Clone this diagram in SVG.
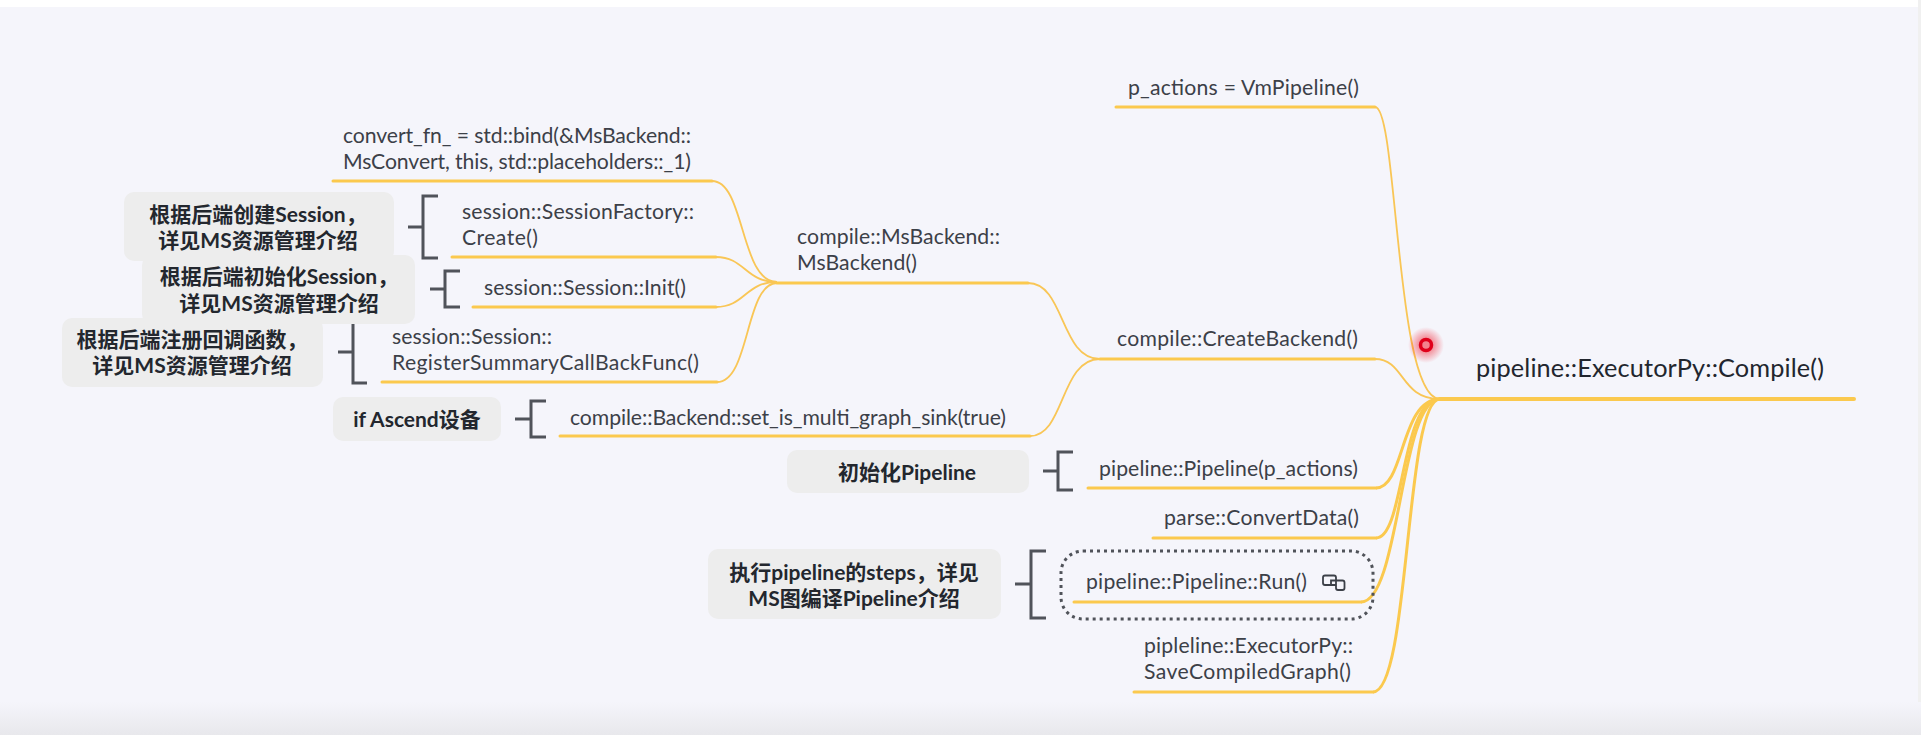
<svg xmlns="http://www.w3.org/2000/svg" width="1921" height="735" viewBox="0 0 1921 735">
<defs>
<linearGradient id="floor" x1="0" y1="0" x2="0" y2="1"><stop offset="0" stop-color="#f5f5fb"/><stop offset="1" stop-color="#e8e8ec"/></linearGradient>
<radialGradient id="glow"><stop offset="0.3" stop-color="#f01020" stop-opacity="0.5"/><stop offset="1" stop-color="#f01020" stop-opacity="0"/></radialGradient>
</defs>
<style>
.t{font-family:"Lato","Noto Sans CJK SC",sans-serif;font-size:21.2px;fill:#3c4048}
.b{font-family:"Lato","Noto Sans CJK SC",sans-serif;font-size:21px;font-weight:700;fill:#23272e;text-anchor:middle}
.box{fill:#ededed}
.u{fill:none;stroke:#fbc94e;stroke-width:3;stroke-linecap:round}
.c{fill:none;stroke:#f9c656;stroke-width:1.8}
.d{fill:none;stroke:#fbc94e;stroke-width:3}
.br{fill:none;stroke:#50535a;stroke-width:3}
</style>
<rect width="1921" height="735" fill="#ffffff"/>
<rect x="0" y="7" width="1918" height="728" fill="#f5f5fb"/>
<rect x="1918" y="0" width="3" height="735" fill="#f0f0f0"/>
<rect x="0" y="702" width="1921" height="33" fill="url(#floor)"/>
<g id="connectors">
<path class="u" d="M333 181H712"/><path class="c" d="M712 181C745 181 740 282 777 282"/>
<path class="u" d="M452 257H716"/><path class="c" d="M716 257C745 257 745 282 777 282"/>
<path class="u" d="M473 307H716"/><path class="c" d="M716 307C745 307 745 282 777 282"/>
<path class="u" d="M382 382H717"/><path class="c" d="M717 382C750 382 745 283 777 283"/>
<path class="u" d="M777 283H1028"/><path class="c" d="M1028 283C1065 283 1060 359 1100 359"/>
<path class="u" d="M560 436H1030"/><path class="c" d="M1030 436C1065 436 1060 359 1100 359"/>
<path class="u" d="M1100 359H1375"/><path class="c" d="M1375 359C1405 359 1400 399 1440 399"/>
<path class="u" d="M1116 107H1375"/><path class="c" d="M1375 107C1398 107 1395 399 1440 399"/>
<path class="u" d="M1440 399H1854" style="stroke-width:4"/>
<path class="u" d="M1088 488H1376"/><path class="d" d="M1376 488C1405 488 1400 399 1440 399"/>
<path class="u" d="M1153 538H1376"/><path class="d" d="M1376 538C1405 538 1400 399 1440 399"/>
<path class="u" d="M1074 602H1361"/><path class="d" d="M1361 602C1400 602 1400 399 1440 399"/>
<path class="u" d="M1134 692H1373"/><path class="d" d="M1373 692C1410 692 1405 399 1440 399"/>
</g>
<g id="bracket-1"><path class="br" d="M408 227H423M438 196H423V258H438"/></g>
<g id="bracket-2"><path class="br" d="M430 289H445M460 271H445V307H460"/></g>
<g id="bracket-3"><path class="br" d="M338 352H353M367 321H353V383H367"/></g>
<g id="bracket-4"><path class="br" d="M515 419H531M546 401H531V437H546"/></g>
<g id="bracket-5"><path class="br" d="M1043 471H1058M1073 452H1058V490H1073"/></g>
<g id="bracket-6"><path class="br" d="M1015 584H1031M1046 551H1031V618H1046"/></g>
<g id="root"><text class="t" x="1476" y="377" textLength="348" style="font-size:25.3px;fill:#22262e">pipeline::ExecutorPy::Compile()</text></g>
<g id="n-pactions"><text class="t" x="1128" y="95" textLength="231">p_actions = VmPipeline()</text></g>
<g id="n-createbackend"><text class="t" x="1117" y="346" textLength="241">compile::CreateBackend()</text></g>
<g id="n-msbackend"><text class="t" x="797" y="244" textLength="203">compile::MsBackend::</text><text class="t" x="797" y="270" textLength="120">MsBackend()</text></g>
<g id="n-convert"><text class="t" x="343" y="143" textLength="348">convert_fn_ = std::bind(&amp;MsBackend::</text><text class="t" x="343" y="169" textLength="348">MsConvert, this, std::placeholders::_1)</text></g>
<g id="n-create"><text class="t" x="462" y="219" textLength="232">session::SessionFactory::</text><text class="t" x="462" y="245" textLength="76">Create()</text></g>
<g id="n-init"><text class="t" x="484" y="295" textLength="202">session::Session::Init()</text></g>
<g id="n-register"><text class="t" x="392" y="344" textLength="160">session::Session::</text><text class="t" x="392" y="370" textLength="307">RegisterSummaryCallBackFunc()</text></g>
<g id="n-sink"><text class="t" x="570" y="425" textLength="436">compile::Backend::set_is_multi_graph_sink(true)</text></g>
<g id="n-pipeline"><text class="t" x="1099" y="476" textLength="259">pipeline::Pipeline(p_actions)</text></g>
<g id="n-parse"><text class="t" x="1164" y="525" textLength="195">parse::ConvertData()</text></g>
<g id="n-run"><rect x="1061" y="551" width="312" height="68" rx="22" fill="none" stroke="#50535a" stroke-width="3" stroke-dasharray="3 4"/><text class="t" x="1086" y="589" textLength="221">pipeline::Pipeline::Run()</text>
<g fill="none" stroke="#3c4048" stroke-width="1.8"><path d="M1336 585H1325Q1323 585 1323 583V577.500Q1323 575.500 1325 575.500H1334Q1336 575.500 1336 577.500V588Q1336 590 1338 590H1342.500Q1344.500 590 1344.500 588V582.500Q1344.500 580.500 1342.500 580.500H1331V585"/></g></g>
<g id="n-save"><text class="t" x="1144" y="653" textLength="209">pipleline::ExecutorPy::</text><text class="t" x="1144" y="679" textLength="207">SaveCompiledGraph()</text></g>
<g id="note-1"><rect class="box" x="124" y="192" width="270" height="69" rx="10"/><text class="b" x="258" y="222">根据后端创建Session，</text><text class="b" x="258" y="248">详见MS资源管理介绍</text></g>
<g id="note-2"><rect class="box" x="142" y="255" width="273" height="69" rx="10"/><text class="b" x="279" y="284">根据后端初始化Session，</text><text class="b" x="279" y="311">详见MS资源管理介绍</text></g>
<g id="note-3"><rect class="box" x="62" y="318" width="261" height="69" rx="10"/><text class="b" x="192" y="347">根据后端注册回调函数，</text><text class="b" x="192" y="373">详见MS资源管理介绍</text></g>
<g id="note-4"><rect class="box" x="333" y="397" width="168" height="44" rx="10"/><text class="b" x="417" y="427">if Ascend设备</text></g>
<g id="note-5"><rect class="box" x="787" y="450" width="242" height="43" rx="10"/><text class="b" x="907" y="480">初始化Pipeline</text></g>
<g id="note-6"><rect class="box" x="708" y="549" width="293" height="70" rx="10"/><text class="b" x="854" y="580">执行pipeline的steps，详见</text><text class="b" x="854" y="606">MS图编译Pipeline介绍</text></g>
<circle cx="1426" cy="345" r="18" fill="url(#glow)"/>
<circle cx="1426" cy="345" r="5.500" fill="none" stroke="#e0001b" stroke-width="3.500"/>
</svg>
